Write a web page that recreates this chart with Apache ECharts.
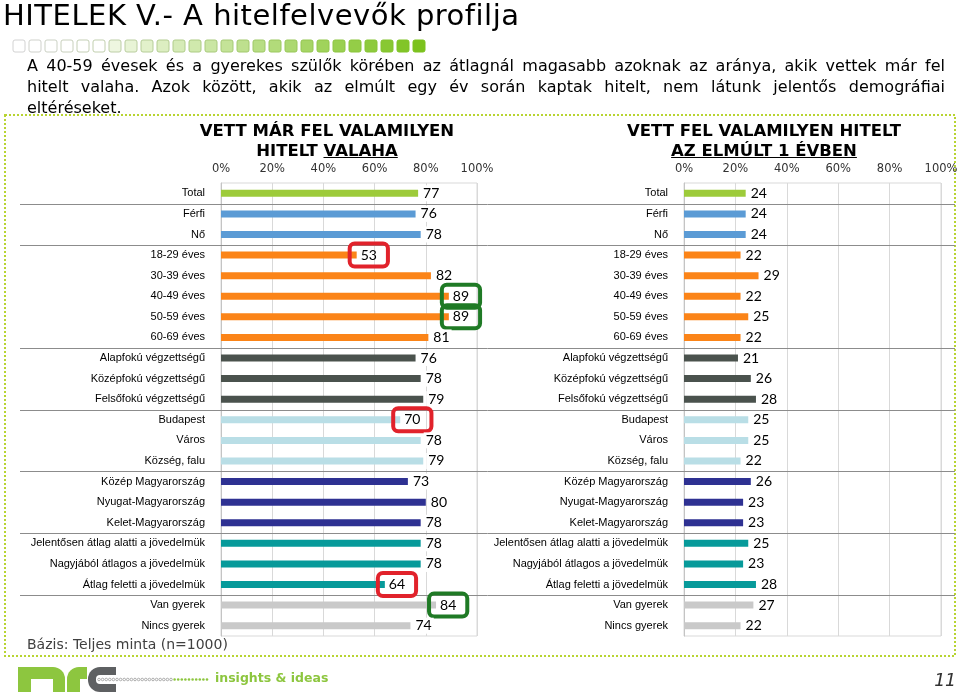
<!DOCTYPE html>
<html>
<head>
<meta charset="utf-8">
<title>HITELEK V. - A hitelfelvevők profilja</title>
<script src="https://cdn.jsdelivr.net/npm/echarts@6/dist/echarts.min.js"></script>
<style>
  html, body { margin: 0; padding: 0; background: #fff; }
  .page { position: relative; width: 960px; height: 695px; overflow: hidden; }
  #chart { position: absolute; left: 0; top: 0; width: 960px; height: 695px; }
  .txt { position: absolute; font-family: 'DejaVu Sans', Verdana, sans-serif; color: #000; white-space: nowrap; }
  .page-title { left: 3px; top: -2px; font-size: 29px; line-height: 34px; letter-spacing: 0.5px; }
  .lead { left: 27px; width: 918px; font-size: 16px; line-height: 21px; word-spacing: -2px; }
  .lead.j { text-align: justify; text-align-last: justify; }
  .chart-title { width: 360px; font-weight: bold; font-size: 16.5px; line-height: 20px; text-align: center; }
</style>
</head>
<body>
<div class="page">
  <div id="chart"></div>
  <div class="txt page-title">HITELEK V.- A hitelfelvevők profilja</div>
  <div class="txt lead j" style="top:55px">A 40-59 évesek és a gyerekes szülők körében az átlagnál magasabb azoknak az aránya, akik vettek már fel</div>
  <div class="txt lead j" style="top:76px">hitelt valaha. Azok között, akik az elmúlt egy év során kaptak hitelt, nem látunk jelentős demográfiai</div>
  <div class="txt lead" style="top:97px; word-spacing: 0">eltéréseket.</div>
  <div class="txt chart-title" style="left:147px; top:121px">VETT MÁR FEL VALAMILYEN<br>HITELT <u>VALAHA</u></div>
  <div class="txt chart-title" style="left:584px; top:121px">VETT FEL VALAMILYEN HITELT<br><u>AZ ELMÚLT 1 ÉVBEN</u></div>
</div>
<script>
// csoportok / kategóriák
const categories = [
  'Total',
  'Férfi', 'Nő',
  '18-29 éves', '30-39 éves', '40-49 éves', '50-59 éves', '60-69 éves',
  'Alapfokú végzettségű', 'Középfokú végzettségű', 'Felsőfokú végzettségű',
  'Budapest', 'Város', 'Község, falu',
  'Közép Magyarország', 'Nyugat-Magyarország', 'Kelet-Magyarország',
  'Jelentősen átlag alatti a jövedelmük', 'Nagyjából átlagos a jövedelmük', 'Átlag feletti a jövedelmük',
  'Van gyerek', 'Nincs gyerek'
]
const groupSizes = [1, 2, 5, 3, 3, 3, 3, 2]

// Vett már fel valamilyen hitelt valaha (%)
const vettValaha = [77, 76, 78, 53, 82, 89, 89, 81, 76, 78, 79, 70, 78, 79, 73, 80, 78, 78, 78, 64, 84, 74]
// Vett fel valamilyen hitelt az elmúlt 1 évben (%)
const vettElmultEvben = [24, 24, 24, 22, 29, 22, 25, 22, 21, 26, 28, 25, 25, 22, 26, 23, 23, 25, 23, 28, 27, 22]

// kiemelések a bal oldali grafikonon
const kiemeltAlacsony = ['18-29 éves', 'Budapest', 'Átlag feletti a jövedelmük']
const kiemeltMagas = ['40-49 éves', '50-59 éves', 'Van gyerek']

const groupColors = ['#9dcb3a', '#5b9bd5', '#fb8418', '#4a524d', '#b9dee6', '#2e3192', '#079a9a', '#c9c9c9']

const groupOf = []
groupSizes.forEach((n, g) => { for (let i = 0; i < n; i++) groupOf.push(g) })

const valueFont = 'Lato, "Open Sans", sans-serif'
const catFont = '"Liberation Sans", Arial, sans-serif'

function barData(values, withMarks) {
  return values.map((v, i) => {
    const item = { value: v, itemStyle: { color: groupColors[groupOf[i]] } }
    if (withMarks) {
      let border = null
      if (kiemeltAlacsony.indexOf(categories[i]) >= 0) border = '#e1222b'
      if (kiemeltMagas.indexOf(categories[i]) >= 0) border = '#1f7a25'
      if (border) {
        item.label = {
          borderColor: border,
          borderWidth: 2,
          borderRadius: 5,
          padding: [5, 11, 4, 11],
          distance: -7,
          backgroundColor: 'transparent'
        }
      }
    }
    return item
  })
}

function xAxisFor(grid) {
  return {
    type: 'value',
    gridIndex: grid,
    position: 'top',
    min: 0,
    max: 100,
    interval: 20,
    axisLine: { show: false },
    axisTick: { show: false },
    axisLabel: { formatter: '{value}%', margin: 8, fontFamily: 'DejaVu Sans', fontSize: 11.5, color: '#333' },
    splitLine: { lineStyle: { color: '#d9d9d9' } }
  }
}

function yAxisFor(grid) {
  return {
    type: 'category',
    gridIndex: grid,
    data: categories,
    inverse: true,
    axisLine: { lineStyle: { color: '#c4c4c4' } },
    axisTick: { length: 3, lineStyle: { color: '#c4c4c4' } },
    axisLabel: { margin: 16, fontFamily: catFont, fontSize: 11, color: '#000' }
  }
}

function barSeries(values, grid, withMarks) {
  return {
    type: 'bar',
    xAxisIndex: grid,
    yAxisIndex: grid,
    barWidth: 7,
    silent: true,
    data: barData(values, withMarks),
    label: {
      show: true,
      position: 'right',
      distance: 3,
      padding: [1, 2],
      backgroundColor: '#fff',
      fontFamily: valueFont,
      fontSize: 14,
      color: '#000'
    }
  }
}

// díszítő elemek
function mix(a, b, t) {
  const pa = [1, 3, 5].map(k => parseInt(a.substr(k, 2), 16))
  const pb = [1, 3, 5].map(k => parseInt(b.substr(k, 2), 16))
  return 'rgb(' + pa.map((c, k) => Math.round(c + (pb[k] - c) * t)).join(',') + ')'
}

const staticGraphics = []
for (let i = 0; i < 26; i++) {
  const t = i / 25
  staticGraphics.push({
    type: 'rect',
    shape: { x: 13 + i * 16, y: 40, width: 12, height: 12, r: 2 },
    style: {
      fill: t < 0.22 ? '#fff' : mix('#f4f9ea', '#7cc21e', (t - 0.2) / 0.8),
      stroke: mix('#d2d2d2', '#7cc21e', t),
      lineWidth: 1
    }
  })
}
staticGraphics.push({
  type: 'rect',
  shape: { x: 5, y: 115, width: 950, height: 541 },
  style: { fill: 'none', stroke: '#b8d432', lineWidth: 2, lineDash: [2, 2] },
  z: 0
})
staticGraphics.push({
  type: 'text', x: 27, y: 638,
  style: { text: 'Bázis: Teljes minta (n=1000)', fontFamily: 'DejaVu Sans', fontSize: 14, fill: '#404040' }
})
// nrc logó
staticGraphics.push(
  { type: 'rect', shape: { x: 18, y: 667, width: 47, height: 25, r: [0, 12, 0, 0] }, style: { fill: '#8dc63f' }, z: 10 },
  { type: 'rect', shape: { x: 31, y: 679, width: 22, height: 14 }, style: { fill: '#fff' }, z: 11 },
  { type: 'rect', shape: { x: 67, y: 667, width: 20, height: 25, r: [12, 0, 0, 0] }, style: { fill: '#8dc63f' }, z: 10 },
  { type: 'rect', shape: { x: 80, y: 679, width: 8, height: 14 }, style: { fill: '#fff' }, z: 11 },
  { type: 'rect', shape: { x: 88, y: 667, width: 28, height: 25, r: [12, 0, 0, 12] }, style: { fill: '#5e6062' }, z: 10 },
  { type: 'rect', shape: { x: 96, y: 675, width: 21, height: 9, r: [4, 0, 0, 4] }, style: { fill: '#fff' }, z: 11 }
)
for (let i = 0; i < 31; i++) {
  const green = i >= 21
  staticGraphics.push({
    type: 'circle',
    shape: { cx: 99 + i * 3.6, cy: 679.5, r: 1.3 },
    style: green ? { fill: '#8dc63f' } : { fill: '#fff', stroke: '#9a9a9a', lineWidth: 0.8 },
    z: 12
  })
}
staticGraphics.push({
  type: 'text', x: 215, y: 672,
  style: { text: 'insights & ideas', fontFamily: 'DejaVu Sans', fontWeight: 'bold', fontSize: 12.5, fill: '#8dc63f' }
})
staticGraphics.push({
  type: 'text', x: 934, y: 672,
  style: { text: '11', fontFamily: 'DejaVu Sans Mono', fontStyle: 'italic', fontSize: 18, fill: '#333' }
})

const option = {
  animation: false,
  backgroundColor: '#fff',
  grid: [
    { left: 221, top: 183, width: 256, height: 453, show: true, borderColor: '#d9d9d9', borderWidth: 1, outerBoundsMode: 'none' },
    { left: 684, top: 183, width: 257, height: 453, show: true, borderColor: '#d9d9d9', borderWidth: 1, outerBoundsMode: 'none' }
  ],
  xAxis: [xAxisFor(0), xAxisFor(1)],
  yAxis: [yAxisFor(0), yAxisFor(1)],
  series: [
    barSeries(vettValaha, 0, true),
    barSeries(vettElmultEvben, 1, false)
  ]
}

const chart = echarts.init(document.getElementById('chart'))
chart.setOption(option)

// csoporthatárok vonalai a kategóriák közé
const sepLines = []
let acc = 0
groupSizes.slice(0, -1).forEach(n => {
  acc += n
  const ya = chart.convertToPixel({ yAxisIndex: 0 }, acc - 1)
  const yb = chart.convertToPixel({ yAxisIndex: 0 }, acc)
  const y = Math.round((ya + yb) / 2) + 0.5
  sepLines.push({
    type: 'line',
    shape: { x1: 20, y1: y, x2: 955, y2: y },
    style: { stroke: '#8c8c8c', lineWidth: 1 },
    z: 1
  })
})
chart.setOption({ graphic: staticGraphics.concat(sepLines) })
</script>
</body>
</html>
